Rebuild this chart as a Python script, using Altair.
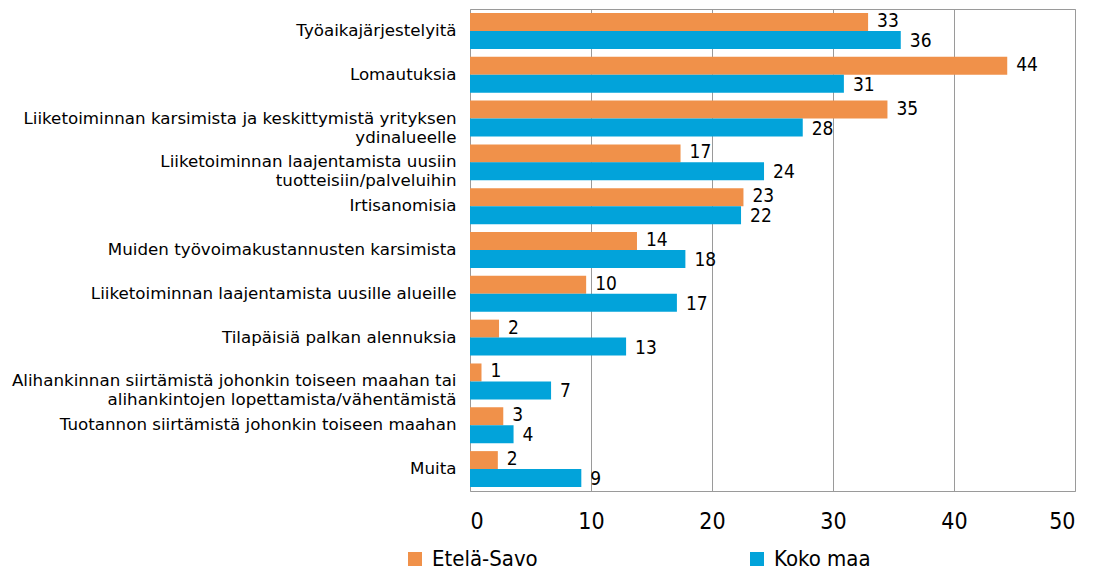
import altair as alt
import pandas as pd

categories = [
    "Työaikajärjestelyitä",
    "Lomautuksia",
    "Liiketoiminnan karsimista ja keskittymistä yrityksen|ydinalueelle",
    "Liiketoiminnan laajentamista uusiin|tuotteisiin/palveluihin",
    "Irtisanomisia",
    "Muiden työvoimakustannusten karsimista",
    "Liiketoiminnan laajentamista uusille alueille",
    "Tilapäisiä palkan alennuksia",
    "Alihankinnan siirtämistä johonkin toiseen maahan tai|alihankintojen lopettamista/vähentämistä",
    "Tuotannon siirtämistä johonkin toiseen maahan",
    "Muita",
]
series = ["Etelä-Savo", "Koko maa"]
etela_savo = [32.9, 44.4, 34.5, 17.4, 22.6, 13.8, 9.6, 2.4, 0.95, 2.75, 2.3]
koko_maa = [35.6, 30.9, 27.5, 24.3, 22.4, 17.8, 17.1, 12.9, 6.7, 3.6, 9.2]
colors = ["#F0914A", "#02A3DA"]

rows = []
for c, a, b in zip(categories, etela_savo, koko_maa):
    rows.append({"cat": c, "series": series[0], "value": a})
    rows.append({"cat": c, "series": series[1], "value": b})
df = pd.DataFrame(rows)

narrow = "DejaVu Sans Condensed"

y_enc = alt.Y(
    "cat:N",
    sort=categories,
    title=None,
    scale=alt.Scale(paddingInner=0.18, paddingOuter=0.09),
    axis=alt.Axis(
        labelExpr="split(datum.value, '|')",
        labelFont="DejaVu Sans",
        labelFontSize=16.7,
        labelColor="#000000",
        labelPadding=14,
        ticks=False,
        domain=False,
        labelLimit=600,
        labelLineHeight=19,
    ),
)
x_enc = alt.X(
    "value:Q",
    title=None,
    scale=alt.Scale(domain=[0, 50]),
    axis=alt.Axis(
        values=[0, 10, 20, 30, 40, 50],
        labelFont=narrow,
        labelFontSize=23,
        labelColor="#000000",
        labelPadding=19,
        ticks=False,
        domain=False,
        grid=True,
        gridColor="#9A9A9A",
        gridWidth=1,
    ),
)
yoff = alt.YOffset("series:N", sort=series)

bars = alt.Chart(df).mark_bar(size=18).encode(
    y=y_enc,
    x=x_enc,
    yOffset=yoff,
    color=alt.Color(
        "series:N",
        sort=series,
        scale=alt.Scale(domain=series, range=colors),
        legend=alt.Legend(
            title=None,
            orient="none",
            direction="horizontal",
            legendX=-66,
            legendY=539,
            symbolType="square",
            symbolSize=196,
            symbolStrokeWidth=0,
            labelFont=narrow,
            labelFontSize=22,
            labelColor="#000000",
            columnPadding=208,
            labelOffset=6,
        ),
    ),
)

def label_layer(name, dy):
    return alt.Chart(df).transform_filter(alt.datum.series == name).mark_text(
        align="left", baseline="middle", dx=9, dy=dy, font=narrow, fontSize=19, color="#000000"
    ).encode(
        y=alt.Y("cat:N", sort=categories),
        x=alt.X("value:Q"),
        yOffset=yoff,
        text=alt.Text("value:Q", format=".0f"),
    )

chart = (
    alt.layer(bars, label_layer(series[0], -1), label_layer(series[1], 1))
    .properties(width=605, height=482, padding={"left": 3, "top": 1, "right": 10, "bottom": 0})
    .configure_view(stroke="#9A9A9A", strokeWidth=1)
)

chart.save("out.html", embed_options={"renderer": "svg", "actions": False})
